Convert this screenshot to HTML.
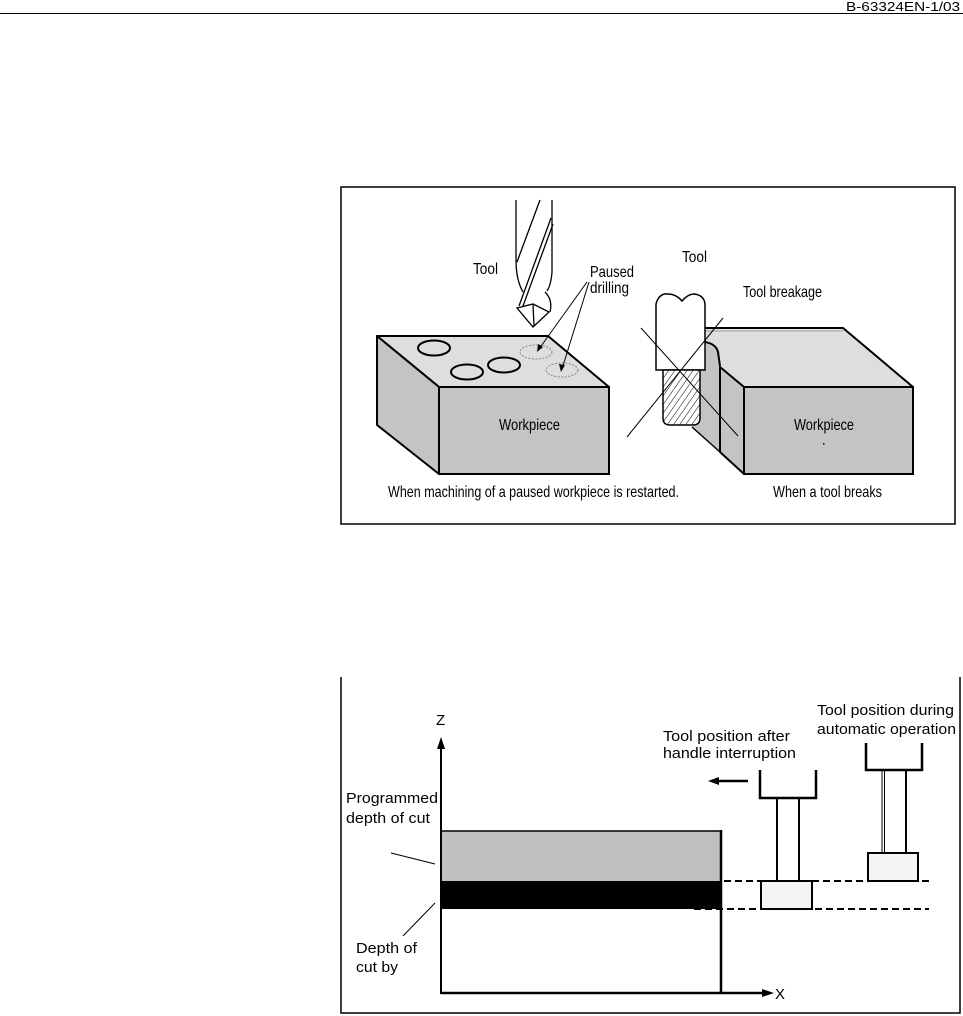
<!DOCTYPE html>
<html><head><meta charset="utf-8"><style>
html,body{margin:0;padding:0;background:#fff;}
svg{display:block;}
text{font-family:"Liberation Sans",Arial,sans-serif;fill:#000;}
</style></head><body>
<svg width="963" height="1016" viewBox="0 0 963 1016" xmlns="http://www.w3.org/2000/svg">
<defs>
<pattern id="hatch" patternUnits="userSpaceOnUse" width="5" height="5" patternTransform="rotate(35)">
<rect width="5" height="5" fill="#fff"/>
<line x1="0" y1="0" x2="0" y2="5" stroke="#000" stroke-width="1"/>
</pattern>
</defs>
<!-- header -->
<text x="846" y="11" font-size="13" textLength="114" lengthAdjust="spacingAndGlyphs">B-63324EN-1/03</text>
<line x1="0" y1="13.5" x2="963" y2="13.5" stroke="#000" stroke-width="1"/>

<!-- top box -->
<rect x="341" y="187" width="614" height="337" fill="none" stroke="#000" stroke-width="1.5"/>

<!-- left workpiece -->
<polygon points="377,336 548,336 609,387 439,387" fill="#dedede" stroke="#000" stroke-width="2" stroke-linejoin="round"/>
<polygon points="377,336 439,387 439,474 377,425" fill="#c4c4c4" stroke="#000" stroke-width="2" stroke-linejoin="round"/>
<rect x="439" y="387" width="170" height="87" fill="#c4c4c4" stroke="#000" stroke-width="2"/>
<ellipse cx="434" cy="348" rx="16" ry="7.5" fill="none" stroke="#000" stroke-width="2"/>
<ellipse cx="467" cy="372" rx="16" ry="7.5" fill="none" stroke="#000" stroke-width="2"/>
<ellipse cx="504" cy="365" rx="16" ry="7.5" fill="none" stroke="#000" stroke-width="2"/>
<ellipse cx="536" cy="352" rx="16" ry="7" fill="none" stroke="#888" stroke-width="1" stroke-dasharray="2 1.5"/>
<ellipse cx="562" cy="370" rx="16" ry="7" fill="none" stroke="#888" stroke-width="1" stroke-dasharray="2 1.5"/>
<!-- arrows to paused drilling -->
<line x1="587" y1="282" x2="539" y2="349" stroke="#000" stroke-width="1"/>
<polygon points="537,352 538,344 543,347" fill="#000"/>
<line x1="589" y1="282" x2="562" y2="369" stroke="#000" stroke-width="1"/>
<polygon points="561,372 559,364 565,365" fill="#000"/>

<!-- drill -->
<g fill="none" stroke="#000" stroke-width="1.3">
<path d="M516,200 L516,260 Q516,280 523,292"/>
<path d="M552,200 L552,272 Q551,285 547,291"/>
<path d="M540,200 L517,262"/>
<path d="M551,218 L519,306"/>
<path d="M553,224 L523,306"/>
<path d="M545,292 Q553,300 550,312"/>
<polygon points="517,308 533,304 549,312 533,327" fill="#fff"/>
<path d="M533,304 L534,326"/>
</g>

<!-- right workpiece -->
<polygon points="692,330 705,330 716,348 720,362 720,452 692,428" fill="#c4c4c4"/>
<polygon points="705,328 843,328 913,387 744,387 720,367 717,350 705,342" fill="#dedede"/>
<polygon points="720,367 744,387 744,474 720,452" fill="#c4c4c4" stroke="#000" stroke-width="2" stroke-linejoin="round"/>
<rect x="744" y="387" width="169" height="87" fill="#c4c4c4" stroke="#000" stroke-width="2"/>
<g fill="none" stroke="#000" stroke-width="2" stroke-linejoin="round">
<path d="M705,328 L843,328 L913,387"/>
<path d="M705,342 Q716,344 718,352 L720,366"/>
<line x1="692" y1="427" x2="720" y2="452" stroke-width="1.5"/>
</g>
<line x1="705" y1="331" x2="843" y2="331" stroke="#888" stroke-width="0.8"/>
<!-- end mill -->
<path d="M656,370 L656,304 Q659,293 668,294 Q676,294 682,301 Q688,294 694,294 Q704,295 705,304 L705,370 Z" fill="#fff" stroke="#000" stroke-width="1.5"/>
<path d="M663,370 L700,370 L700,418 Q700,425 693,425 L670,425 Q663,425 663,418 Z" fill="url(#hatch)" stroke="#000" stroke-width="1.5"/>
<!-- cross lines -->
<line x1="641" y1="328" x2="738" y2="436" stroke="#000" stroke-width="1"/>
<line x1="723" y1="318" x2="627" y2="437" stroke="#000" stroke-width="1"/>
<rect x="823" y="443" width="1.5" height="1.5" fill="#000"/>

<!-- top labels -->
<text x="473" y="274" font-size="16" textLength="25" lengthAdjust="spacingAndGlyphs">Tool</text>
<text x="590" y="277" font-size="16" textLength="44" lengthAdjust="spacingAndGlyphs">Paused</text>
<text x="590" y="293" font-size="16" textLength="39" lengthAdjust="spacingAndGlyphs">drilling</text>
<text x="682" y="262" font-size="16" textLength="25" lengthAdjust="spacingAndGlyphs">Tool</text>
<text x="743" y="297" font-size="16" textLength="79" lengthAdjust="spacingAndGlyphs">Tool breakage</text>
<text x="499" y="430" font-size="16" textLength="61" lengthAdjust="spacingAndGlyphs">Workpiece</text>
<text x="794" y="430" font-size="16" textLength="60" lengthAdjust="spacingAndGlyphs">Workpiece</text>
<text x="388" y="497" font-size="16" textLength="291" lengthAdjust="spacingAndGlyphs">When machining of a paused workpiece is restarted.</text>
<text x="773" y="497" font-size="16" textLength="109" lengthAdjust="spacingAndGlyphs">When a tool breaks</text>

<!-- bottom box -->
<path d="M341,677 L341,1013 L960,1013 L960,677" fill="none" stroke="#000" stroke-width="1.5"/>

<!-- bands -->
<rect x="441" y="831" width="280" height="50" fill="#c0c0c0"/>
<rect x="441" y="881" width="280" height="28" fill="#000"/>
<line x1="441" y1="831" x2="721" y2="831" stroke="#000" stroke-width="1.5"/>
<line x1="721" y1="830" x2="721" y2="994" stroke="#000" stroke-width="2.5"/>
<!-- axes -->
<line x1="441" y1="994" x2="441" y2="746" stroke="#000" stroke-width="2"/>
<polygon points="441,737 437,749 445,749" fill="#000"/>
<line x1="441" y1="993" x2="764" y2="993" stroke="#000" stroke-width="2.5"/>
<polygon points="774,993 762,989 762,997" fill="#000"/>
<text x="436" y="725" font-size="15">Z</text>
<text x="775" y="999" font-size="15">X</text>

<!-- dashed -->
<line x1="724" y1="881" x2="929" y2="881" stroke="#000" stroke-width="2" stroke-dasharray="7 4"/>
<line x1="694" y1="909" x2="929" y2="909" stroke="#000" stroke-width="2" stroke-dasharray="7 4"/>

<!-- tool after -->
<path d="M760,770 L760,798 L816,798 L816,770" fill="none" stroke="#000" stroke-width="2.5"/>
<line x1="777" y1="798" x2="777" y2="881" stroke="#000" stroke-width="2"/>
<line x1="799" y1="798" x2="799" y2="881" stroke="#000" stroke-width="2"/>
<rect x="761" y="881" width="51" height="28" fill="#f4f4f4" stroke="#000" stroke-width="2"/>
<!-- tool during -->
<path d="M866,743 L866,770 L922,770 L922,743" fill="none" stroke="#000" stroke-width="2.5"/>
<line x1="882" y1="770" x2="882" y2="853" stroke="#000" stroke-width="1"/>
<line x1="884.5" y1="770" x2="884.5" y2="853" stroke="#000" stroke-width="1"/>
<line x1="906" y1="770" x2="906" y2="853" stroke="#000" stroke-width="2"/>
<rect x="868" y="853" width="50" height="28" fill="#f4f4f4" stroke="#000" stroke-width="2"/>
<!-- left arrow -->
<line x1="716" y1="781" x2="748" y2="781" stroke="#000" stroke-width="2.5"/>
<polygon points="708,781 719,777 719,785" fill="#000"/>

<!-- leaders -->
<line x1="391" y1="853" x2="435" y2="864" stroke="#000" stroke-width="1"/>
<line x1="435" y1="903" x2="403" y2="936" stroke="#000" stroke-width="1"/>

<!-- bottom labels -->
<text x="346" y="803" font-size="15" textLength="92" lengthAdjust="spacingAndGlyphs">Programmed</text>
<text x="346" y="823" font-size="15" textLength="84" lengthAdjust="spacingAndGlyphs">depth of cut</text>
<text x="356" y="953" font-size="15" textLength="61" lengthAdjust="spacingAndGlyphs">Depth of</text>
<text x="356" y="972" font-size="15" textLength="42" lengthAdjust="spacingAndGlyphs">cut by</text>
<text x="663" y="741" font-size="15" textLength="127" lengthAdjust="spacingAndGlyphs">Tool position after</text>
<text x="663" y="758" font-size="15" textLength="133" lengthAdjust="spacingAndGlyphs">handle interruption</text>
<text x="817" y="715" font-size="15" textLength="137" lengthAdjust="spacingAndGlyphs">Tool position during</text>
<text x="817" y="734" font-size="15" textLength="139" lengthAdjust="spacingAndGlyphs">automatic operation</text>
</svg>
</body></html>
